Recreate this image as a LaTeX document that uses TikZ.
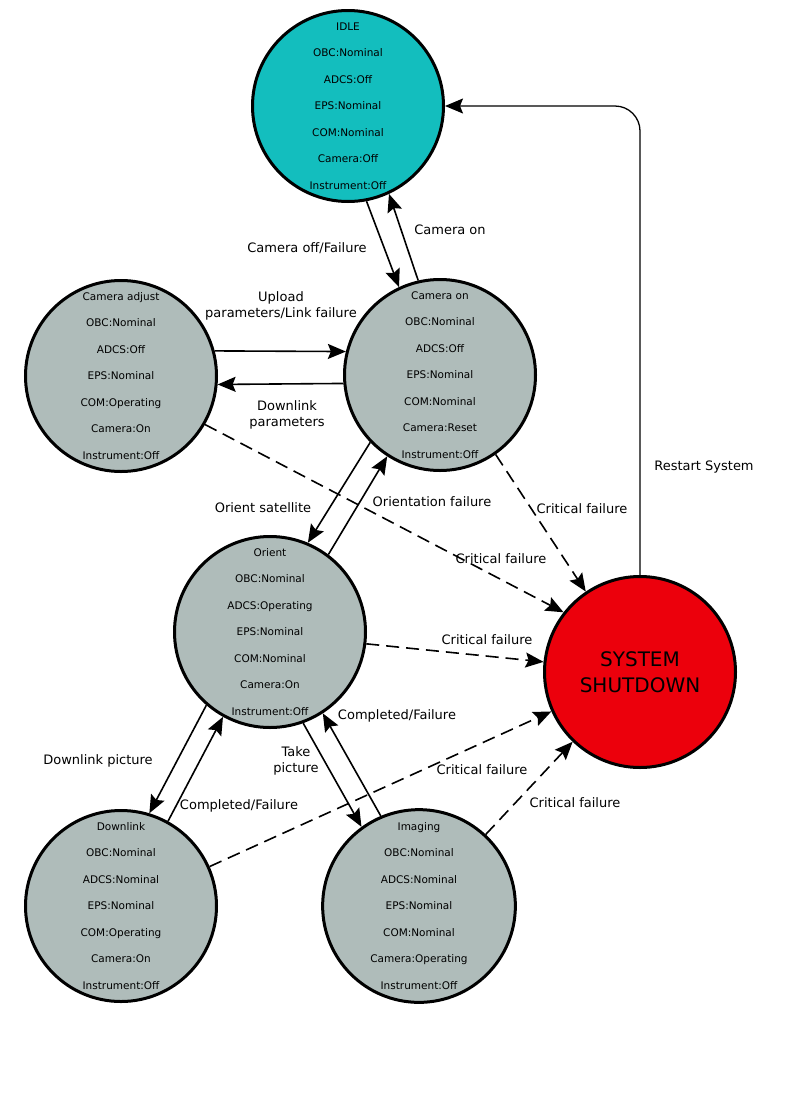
\documentclass[tikz,border=0pt]{standalone}
\usepackage{fontspec}
\setmainfont{DejaVu Sans}
\usetikzlibrary{arrows.meta}
\definecolor{idlecol}{HTML}{13BEBE}
\definecolor{statecol}{HTML}{AFBCBA}
\definecolor{sdcol}{HTML}{EC000C}
\begin{document}
\begin{tikzpicture}[x=1pt,y=-1pt,
  state/.style={circle,draw,line width=3pt,minimum size=191pt,inner sep=0pt,align=center,
    font=\fontsize{10.5}{26.5}\selectfont,fill=statecol},
  lbl/.style={font=\fontsize{13}{16}\selectfont,align=center,inner sep=0pt},
  tr/.style={line width=1.6pt,-{Stealth[length=18pt,width=15pt,inset=3pt]}},
  crit/.style={tr,dash pattern=on 13pt off 7pt}]
\fill[white] (0,0) rectangle (788,1114);
\useasboundingbox (0,0) rectangle (788,1114);

\node[state,fill=idlecol] (idle) at (348,106) {IDLE\\OBC:Nominal\\ADCS:Off\\EPS:Nominal\\COM:Nominal\\Camera:Off\\Instrument:Off};
\node[state] (con) at (440,375) {Camera on\\OBC:Nominal\\ADCS:Off\\EPS:Nominal\\COM:Nominal\\Camera:Reset\\Instrument:Off};
\node[state] (cadj) at (121,376) {Camera adjust\\OBC:Nominal\\ADCS:Off\\EPS:Nominal\\COM:Operating\\Camera:On\\Instrument:Off};
\node[state] (ori) at (270,632) {Orient\\OBC:Nominal\\ADCS:Operating\\EPS:Nominal\\COM:Nominal\\Camera:On\\Instrument:Off};
\node[state] (dl) at (121,906) {Downlink\\OBC:Nominal\\ADCS:Nominal\\EPS:Nominal\\COM:Operating\\Camera:On\\Instrument:Off};
\node[state] (img) at (419,906) {Imaging\\OBC:Nominal\\ADCS:Nominal\\EPS:Nominal\\COM:Nominal\\Camera:Operating\\Instrument:Off};
\node[state,fill=sdcol,font=\fontsize{20}{26}\selectfont] (sd) at (640,672) {SYSTEM\\SHUTDOWN};

\draw[tr] (idle.-79) -- (con.115.5);
\draw[tr] (con.103) -- (idle.-65.5);
\draw[tr] (cadj.15) -- (con.166);
\draw[tr] (con.185) -- (cadj.-5);
\draw[tr] (con.224) -- (ori.67);
\draw[tr] (ori.53.7) -- (con.237.5);
\draw[crit] (con.-55) -- (sd.124);
\draw[crit] (cadj.-30) -- (sd.142);
\draw[crit] (ori.-7.5) -- (sd.174);
\draw[crit] (dl.24.7) -- (sd.204.5);
\draw[crit] (img.47) -- (sd.226.7);
\draw[tr] (ori.229.4) -- (dl.73.8);
\draw[tr] (dl.61.3) -- (ori.241.3);
\draw[tr] (ori.-70.5) -- (img.126);
\draw[tr] (img.113) -- (ori.-57.6);
\draw[tr,line width=1.3pt,rounded corners=25pt] (sd.north) |- (idle.east);

\node[lbl] (l1) at (307,248) {Camera off/Failure};
\node[lbl] (l2) at (450,230) {Camera on};
\node[lbl] (l3) at (281,306) {Upload\\parameters/Link failure};
\node[lbl] (l4) at (287,415) {Downlink\\parameters};
\node[lbl] (l5) at (263,508) {Orient satellite};
\node[lbl] (l6) at (432,502) {Orientation failure};
\node[lbl] (l7) at (582,509) {Critical failure};
\node[lbl] (l8) at (501,559) {Critical failure};
\node[lbl] (l9) at (487,640) {Critical failure};
\node[lbl] (l10) at (482,770) {Critical failure};
\node[lbl] (l11) at (575,803) {Critical failure};
\node[lbl] (l12) at (98,761) {Downlink picture};
\node[lbl] (l13) at (239,806) {Completed/Failure};
\node[lbl] (l14) at (296,761) {Take\\picture};
\node[lbl] (l15) at (397,716) {Completed/Failure};
\node[lbl] (l16) at (704,467) {Restart System};
\end{tikzpicture}
\end{document}
